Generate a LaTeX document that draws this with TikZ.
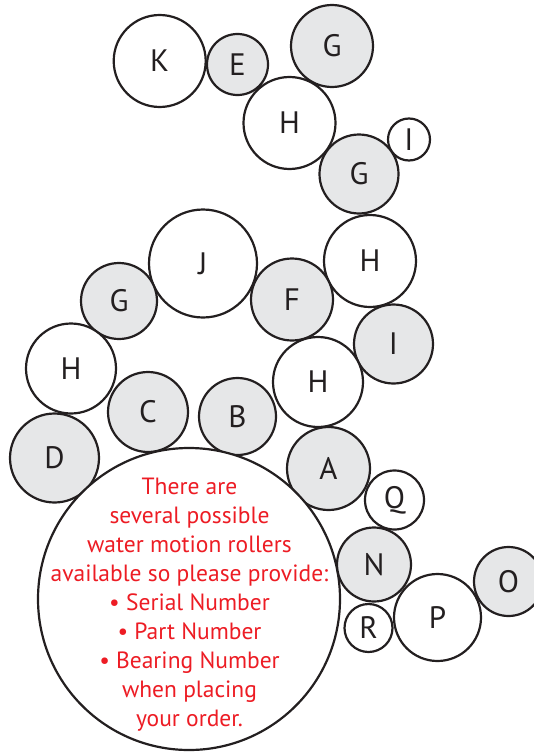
\documentclass[tikz,border=0pt]{standalone}
\usepackage{fontspec}
\setmainfont{PT Sans}
\definecolor{rollgray}{HTML}{E6E7E8}
\definecolor{inkred}{HTML}{ED1C24}
\definecolor{ink}{HTML}{231F20}
\begin{document}
\begin{tikzpicture}[x=1pt,y=-1pt,
  roll/.style={circle,draw=ink,line width=2.2pt,inner sep=0pt,text=ink,
    font=\fontsize{31}{31}\selectfont},
  wr/.style={roll,fill=white},
  gr/.style={roll,fill=rollgray}]
\useasboundingbox (0,0) rectangle (533,752);
\node[wr,minimum size=92pt] (K) at (159.7,61) {K};
\node[gr,minimum size=61pt] (E) at (237.5,64.5) {E};
\node[gr,minimum size=82pt] (G1) at (332,46) {G};
\node[wr,minimum size=92pt] (H1) at (289.5,123) {H};
\node[wr,minimum size=42pt] (I1) at (409,139.5) {I};
\node[gr,minimum size=79pt] (G2) at (359,174) {G};
\node[wr,minimum size=108pt] (J) at (203,263.5) {J};
\node[wr,minimum size=92pt] (H2) at (370,261) {H};
\node[gr,minimum size=76pt] (G3) at (119,301) {G};
\node[gr,minimum size=82pt] (F) at (292,299.5) {F};
\node[gr,minimum size=79pt] (I2) at (393.5,344) {I};
\node[wr,minimum size=90pt] (H3) at (71,368.5) {H};
\node[wr,minimum size=90pt] (H4) at (318,382) {H};
\node[gr,minimum size=80pt] (C) at (148,412) {C};
\node[gr,minimum size=77pt] (B) at (237.5,416.5) {B};
\node[gr,minimum size=89pt] (D) at (54.5,458) {D};
\node[gr,minimum size=83pt] (A) at (328.5,468.5) {A};
\node[wr,minimum size=302pt] (big) at (189,599) {};
\node[wr,minimum size=59pt] (Q) at (394.5,500) {Q};
\node[gr,minimum size=74pt] (N) at (374,564.5) {N};
\node[gr,minimum size=69pt] (O) at (508.5,581.5) {O};
\node[wr,minimum size=87pt] (P) at (437.5,617.5) {P};
\node[wr,minimum size=48pt] (R) at (368.5,628) {R};
\node[align=center,text=inkred,font=\fontsize{23.5}{29}\selectfont] (msg) at (189.5,605)
  {There are\\several possible\\water motion rollers\\available so please provide:\\• Serial Number\\• Part Number\\• Bearing Number\\when placing\\your order.};
\end{tikzpicture}
\end{document}
